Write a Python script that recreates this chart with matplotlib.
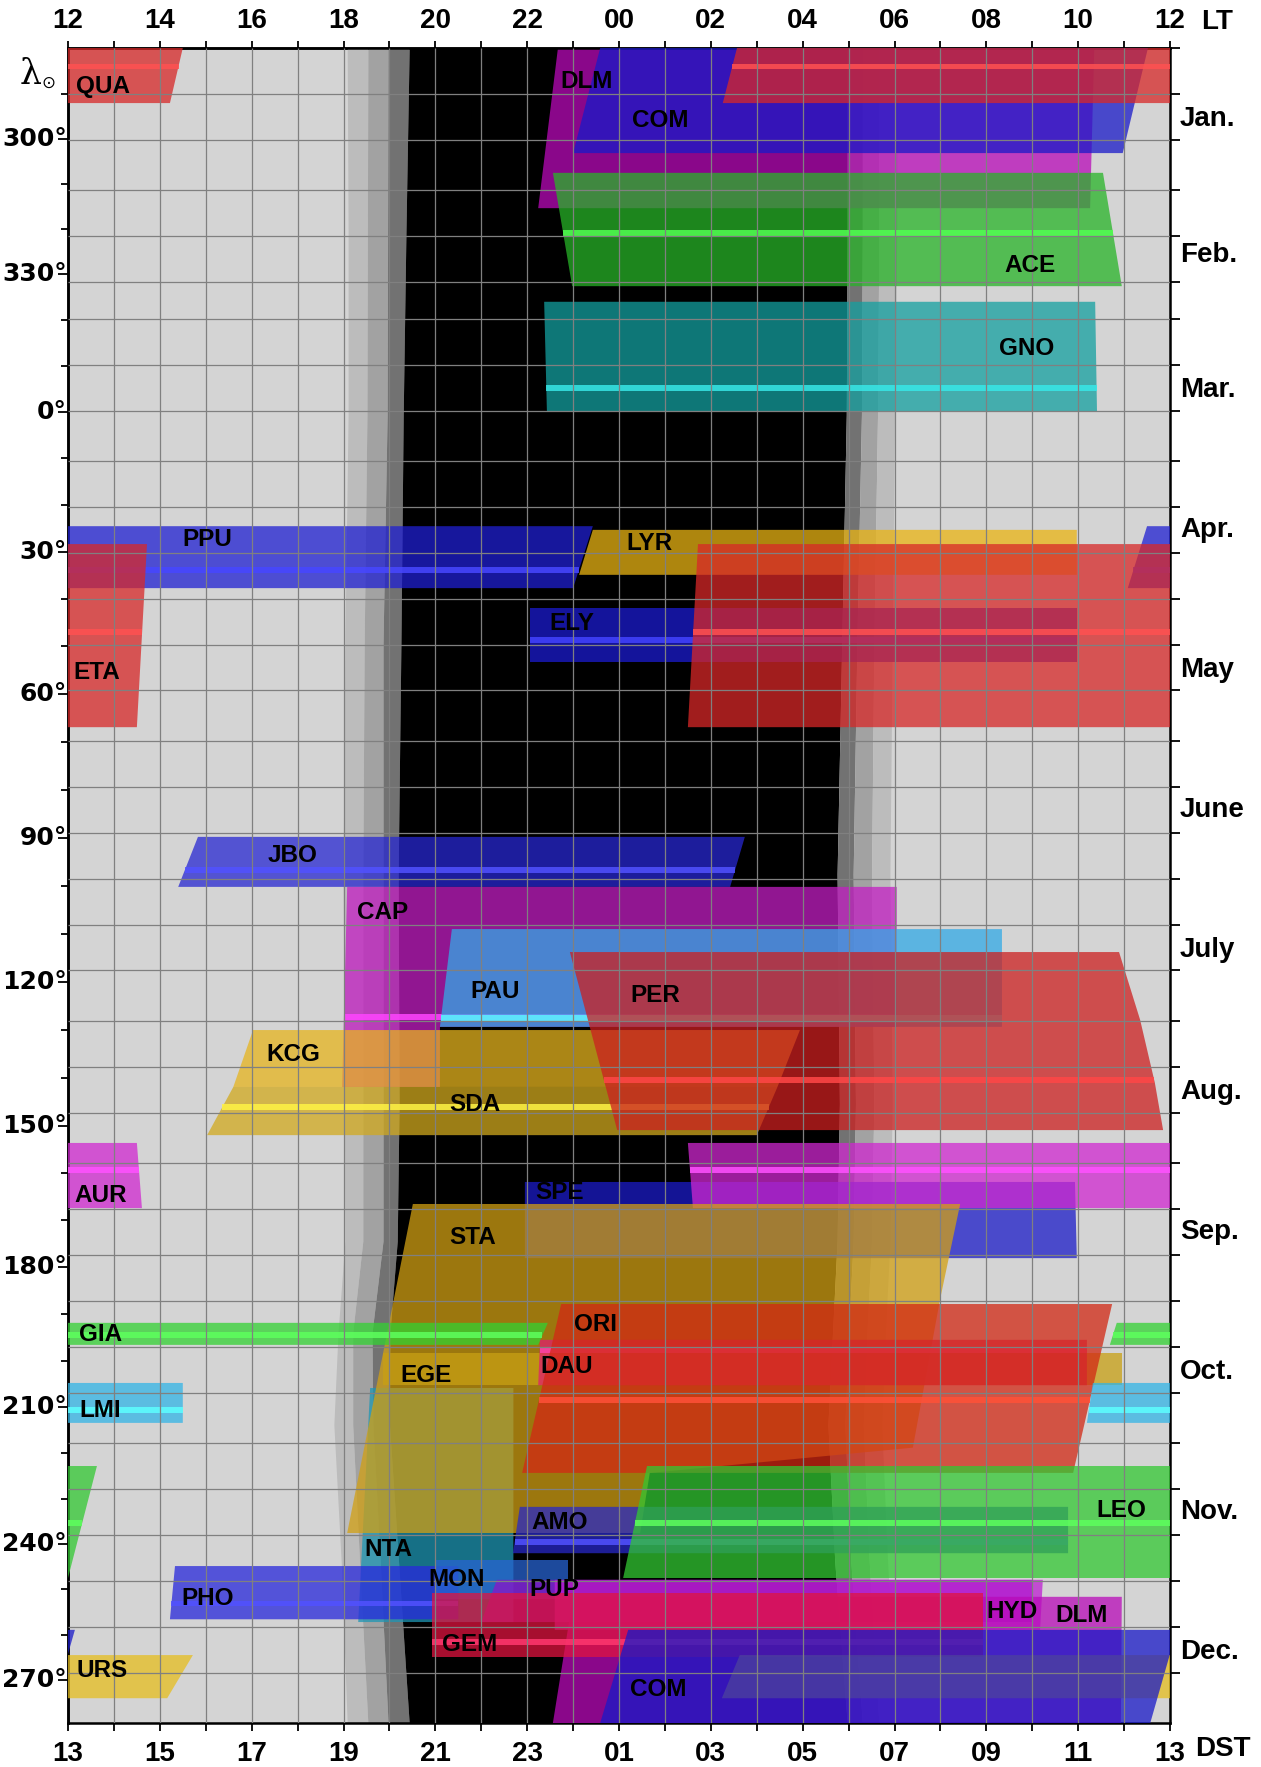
import numpy as np
import matplotlib.pyplot as plt
from matplotlib.patches import Polygon
from matplotlib.colors import to_rgb

plt.rcParams['font.family'] = ['Liberation Sans', 'DejaVu Sans']

# ---- axes / calendar data
MONTHS = ['Jan.', 'Feb.', 'Mar.', 'Apr.', 'May', 'June',
          'July', 'Aug.', 'Sep.', 'Oct.', 'Nov.', 'Dec.']
MONTH_DAYS = [31, 28, 31, 30, 31, 30, 31, 31, 30, 31, 30, 31]
LAMBDA_LABELS = [300, 330, 0, 30, 60, 90, 120, 150, 180, 210, 240, 270]
TOP_LABELS = ['12', '14', '16', '18', '20', '22', '00', '02', '04', '06', '08', '10', '12']
BOTTOM_LABELS = ['13', '15', '17', '19', '21', '23', '01', '03', '05', '07', '09', '11', '13']

# ---- twilight boundaries (day of year, LT hours; after midnight = 24+)
TW_DAY = [0, 40, 80, 130, 180, 230, 260, 280, 300, 330, 365]
EVE_SUNSET = [18.08, 18.10, 18.10, 18.03, 17.99, 18.02, 18.03, 17.88, 17.79, 17.95, 18.08]
EVE_CIVIL = [18.53, 18.52, 18.51, 18.45, 18.42, 18.42, 18.42, 18.20, 18.20, 18.35, 18.53]
EVE_NAUT = [18.97, 18.96, 18.95, 18.86, 18.86, 18.86, 18.86, 18.62, 18.64, 18.80, 18.97]
EVE_ASTRO = [19.43, 19.36, 19.30, 19.25, 19.19, 19.21, 19.17, 19.01, 19.00, 19.20, 19.43]
MORN_ASTRO = [28.97, 28.97, 28.95, 28.85, 28.75, 28.80, 28.75, 28.65, 28.55, 28.70, 28.97]
MORN_NAUT = [29.30, 29.30, 29.28, 29.18, 29.10, 29.15, 29.10, 29.00, 28.92, 29.05, 29.30]
MORN_CIVIL = [29.66, 29.66, 29.63, 29.55, 29.50, 29.55, 29.50, 29.40, 29.32, 29.45, 29.66]
MORN_SUNRISE = [30.05, 30.05, 30.00, 29.95, 29.90, 29.95, 29.90, 29.80, 29.72, 29.85, 30.05]

# ---- meteor showers (drawing order): edges as (day, LT hour) from top to bottom
SHOWER_KEYS = ['DLM1', 'COM1', 'QUA', 'ACE', 'GNO', 'PPU', 'LYR', 'ELY', 'ETA', 'JBO',
               'CAP', 'PAU', 'KCG', 'SDA', 'PER', 'SPE', 'AUR', 'NTA', 'STA', 'EGE',
               'DAU', 'ORI', 'GIA', 'LMI', 'AMO', 'LEO', 'PHO', 'MON', 'PUP', 'HYD',
               'DLM2', 'GEM', 'URS', 'COM2']
SHOWER_NAME = {k: k.rstrip('12') for k in SHOWER_KEYS}

LEFT_EDGE = {
    'DLM1': [(0, 22.67), (34.9, 22.24)],
    'COM1': [(0, 23.59), (22.9, 23.00)],
    'QUA': [(0, 26.57), (12.0, 26.26)],
    'ACE': [(27.2, 22.56), (51.9, 22.98)],
    'GNO': [(55.3, 22.37), (79.3, 22.43)],
    'PPU': [(104.2, 35.50), (117.7, 35.08)],
    'LYR': [(105.0, 23.43), (114.8, 23.13)],
    'ETA': [(108.1, 25.72), (148.0, 25.50)],
    'ELY': [(122.0, 22.06), (133.8, 22.06)],
    'JBO': [(171.9, 14.83), (182.8, 14.40)],
    'CAP': [(182.8, 18.08), (226.4, 17.97)],
    'PAU': [(192.0, 20.36), (213.3, 20.10)],
    'PER': [(197.0, 22.93), (235.8, 23.96)],
    'KCG': [(214.0, 16.03), (226.4, 15.60)],
    'SDA': [(226.4, 15.60), (236.9, 15.03)],
    'AUR': [(238.6, 25.50), (252.8, 25.61)],
    'SPE': [(247.1, 21.95), (263.7, 21.95)],
    'STA': [(251.9, 19.51), (323.6, 18.08)],
    'ORI': [(273.7, 22.74), (310.5, 21.89)],
    'GIA': [(277.8, 34.84), (282.6, 34.69)],
    'DAU': [(281.5, 22.28), (291.4, 22.24)],
    'EGE': [(284.4, 18.86), (291.4, 18.86)],
    'LMI': [(290.9, 34.32), (299.6, 34.19)],
    'NTA': [(292.0, 18.58), (343.0, 18.32)],
    'LEO': [(309.0, 24.61), (333.4, 24.09)],
    'AMO': [(317.9, 21.84), (328.0, 21.69)],
    'PHO': [(330.8, 14.33), (342.4, 14.22)],
    'MON': [(329.5, 20.00), (338.0, 20.00)],
    'PUP': [(333.8, 21.34), (343.0, 21.00)],
    'HYD': [(333.8, 22.60), (344.7, 22.60)],
    'GEM': [(336.7, 19.93), (350.6, 19.93)],
    'DLM2': [(337.5, 23.00), (365.0, 22.56)],
    'COM2': [(344.7, 24.20), (365.0, 23.59)],
    'URS': [(350.2, 26.63), (359.6, 26.24)],
}
RIGHT_EDGE = {
    'DLM1': [(0, 34.35), (34.9, 34.26)],
    'COM1': [(0, 35.52), (22.9, 34.97)],
    'QUA': [(0, 38.50), (12.0, 38.22)],
    'ACE': [(27.2, 34.54), (51.9, 34.95)],
    'GNO': [(55.3, 34.37), (79.3, 34.41)],
    'PPU': [(104.2, 47.43), (117.7, 47.00)],
    'LYR': [(105.0, 33.97), (114.8, 33.97)],
    'ETA': [(108.1, 37.72), (148.0, 37.50)],
    'ELY': [(122.0, 33.97), (133.8, 33.97)],
    'JBO': [(171.9, 26.74), (182.8, 26.42)],
    'CAP': [(182.8, 30.05), (213.3, 30.05), (213.3, 20.10), (226.4, 20.10)],
    'PAU': [(192.0, 32.34), (213.3, 32.34)],
    'PER': [(197.0, 34.89), (211.8, 35.35), (225.5, 35.67), (235.8, 35.85)],
    'KCG': [(214.0, 27.94), (226.4, 27.45)],
    'SDA': [(226.4, 27.45), (236.9, 27.00)],
    'AUR': [(238.6, 37.50), (252.8, 37.61)],
    'SPE': [(247.1, 33.93), (263.7, 33.97)],
    'STA': [(251.9, 31.43), (272.8, 30.99), (305.0, 30.40), (310.5, 24.67), (323.6, 24.46)],
    'ORI': [(273.7, 34.74), (310.5, 33.89)],
    'GIA': [(277.8, 46.45), (282.6, 46.24)],
    'DAU': [(281.5, 34.19), (291.4, 34.19)],
    'EGE': [(284.4, 34.95), (291.4, 34.95)],
    'LMI': [(290.9, 38.50), (299.6, 38.50)],
    'NTA': [(292.0, 21.70), (343.0, 21.70)],
    'LEO': [(309.0, 36.63), (333.4, 36.00)],
    'AMO': [(317.9, 33.78), (328.0, 33.78)],
    'PHO': [(330.8, 20.50), (342.4, 20.50)],
    'MON': [(329.5, 22.90), (338.0, 22.90)],
    'PUP': [(333.8, 33.00), (343.0, 33.00)],
    'HYD': [(333.8, 33.23), (344.7, 33.17)],
    'GEM': [(336.7, 31.93), (350.6, 31.93)],
    'DLM2': [(337.5, 34.95), (365.0, 34.93)],
    'COM2': [(344.7, 36.15), (365.0, 35.57)],
    'URS': [(350.2, 38.72), (359.6, 38.16)],
}
PEAK_DAY = {'QUA': 4.0, 'ACE': 40.3, 'GNO': 74.1, 'PPU': 113.8, 'ETA': 127.3,
            'ELY': 129.0, 'JBO': 179.1, 'CAP': 211.2, 'PAU': 211.4, 'PER': 224.9,
            'SDA': 230.8, 'AUR': 244.5, 'ORI': 294.6, 'GIA': 280.5, 'DAU': 283.8,
            'LMI': 296.8, 'LEO': 321.4, 'AMO': 325.6, 'PHO': 339.0,
            'GEM': 347.3}
LABEL_AT = {  # (LT hour, day)
    'DLM1': (23.30, 7.4), 'COM1': (24.89, 15.7), 'QUA': (12.76, 8.3), 'ACE': (32.95, 47.3),
    'GNO': (32.88, 65.4), 'PPU': (15.03, 107.2), 'LYR': (24.67, 107.9), 'ETA': (12.63, 136.0),
    'ELY': (22.98, 125.3), 'JBO': (16.90, 175.9), 'CAP': (18.84, 188.3), 'PAU': (21.30, 205.7),
    'PER': (24.78, 206.4), 'KCG': (16.90, 219.4), 'SDA': (20.86, 230.3), 'AUR': (12.70, 250.0),
    'SPE': (22.71, 249.3), 'STA': (20.82, 259.1), 'ORI': (23.48, 278.1), 'GIA': (12.70, 280.4),
    'DAU': (22.87, 287.4), 'EGE': (19.80, 289.2), 'LMI': (12.70, 296.8), 'NTA': (18.97, 327.3),
    'LEO': (34.95, 318.6), 'AMO': (22.71, 321.4), 'PHO': (15.05, 337.8), 'MON': (20.47, 333.8),
    'PUP': (22.60, 336.0), 'HYD': (32.56, 340.8), 'GEM': (20.75, 348.0), 'DLM2': (34.08, 341.5),
    'COM2': (24.85, 357.8), 'URS': (12.74, 353.5),
}

COLOR = {
    'DLM1': '#b90ab9', 'COM1': '#1919c8', 'QUA': '#d82828', 'ACE': '#28b428',
    'GNO': '#14a0a0', 'PPU': '#2020d2', 'LYR': '#eab414', 'ETA': '#d82828',
    'ELY': '#1c1cd0', 'JBO': '#2828d2', 'CAP': '#c31ec3', 'PAU': '#32aae6',
    'PER': '#cc2020', 'KCG': '#e6b41e', 'SDA': '#d2aa1e', 'AUR': '#d028d0',
    'SPE': '#1c1cc8', 'STA': '#d2a014', 'ORI': '#d22814', 'GIA': '#32d232',
    'DAU': '#e01e6e', 'EGE': '#c8a014', 'LMI': '#32b4e6', 'NTA': '#1e96b4',
    'LEO': '#32c832', 'AMO': '#2828c8', 'PHO': '#2828dc', 'MON': '#2864d2',
    'PUP': '#8c14c8', 'HYD': '#be1ed2', 'GEM': '#e01440', 'DLM2': '#b90ab9',
    'COM2': '#1919c8', 'URS': '#e6be1e',
}
ALPHA = 0.75


def sun_lon(day):
    n = np.asarray(day, dtype=float) - 0.5
    g = np.radians(357.528 + 0.9856003 * n)
    return 280.460 + 0.9856474 * n + 1.915 * np.sin(g) + 0.020 * np.sin(2 * g)


fine_days = np.linspace(-10, 375, 5000)
fine_lon = sun_lon(fine_days)


def lon_to_day(lon):
    lon = lon if lon >= 280 else lon + 360
    return float(np.interp(lon, fine_lon, fine_days))


def add_poly(ax, verts, color, alpha, z):
    for shift in (-24, 0, 24):
        ax.add_patch(Polygon([(h + shift, d) for h, d in verts], closed=True,
                             facecolor=color, edgecolor='none', alpha=alpha, zorder=z))


fig = plt.figure(figsize=(12.61, 17.67), dpi=100)
ax = fig.add_axes([0.05393, 0.02490, 0.87391, 0.94793])
ax.set_facecolor('#d4d4d4')
ax.set_xlim(12, 36)
ax.set_ylim(365, 0)

# twilight and night
bands = [(EVE_SUNSET, EVE_CIVIL, '#bcbcbc'), (EVE_CIVIL, EVE_NAUT, '#a2a2a2'),
         (EVE_NAUT, EVE_ASTRO, '#727272'), (EVE_ASTRO, MORN_ASTRO, '#000000'),
         (MORN_ASTRO, MORN_NAUT, '#727272'), (MORN_NAUT, MORN_CIVIL, '#a2a2a2'),
         (MORN_CIVIL, MORN_SUNRISE, '#bcbcbc')]
for a, b, c in bands:
    ax.fill_betweenx(TW_DAY, a, b, color=c, lw=0, zorder=1)

# showers
z = 2
for k in SHOWER_KEYS:
    le, re = LEFT_EDGE[k], RIGHT_EDGE[k]
    verts = [(h, d) for d, h in le] + [(h, d) for d, h in re[::-1]]
    add_poly(ax, verts, COLOR[k], ALPHA, z)
    if k in PEAK_DAY:
        p = PEAK_DAY[k]
        hl = np.interp(p, [d for d, h in le], [h for d, h in le])
        hr = np.interp(p, [d for d, h in re], [h for d, h in re])
        sc = np.clip(np.array(to_rgb(COLOR[k])) * 1.25 + 0.12, 0, 1)
        add_poly(ax, [(hl, p - 0.6), (hr, p - 0.6), (hr, p + 0.6), (hl, p + 0.6)], sc, 0.85, z + 0.5)
    z += 1

# grid
grid_days = []
start = 0
for n in MONTH_DAYS:
    grid_days += [start, start + 10, start + 20]
    start += n
ax.vlines(np.arange(13, 36), 0, 365, color='#808080', lw=0.9, zorder=80)
ax.hlines(grid_days[1:], 12, 36, color='#808080', lw=0.9, zorder=80)

# labels of showers
for k in SHOWER_KEYS:
    x, y = LABEL_AT[k]
    ax.text(x, y, SHOWER_NAME[k], ha='center', va='center', fontsize=17.5,
            fontweight='bold', color='black', zorder=90)

# x axes
ax.set_xticks(np.arange(12, 37, 2))
ax.set_xticklabels(BOTTOM_LABELS, fontsize=20, fontweight='bold')
ax.set_xticks(np.arange(13, 36, 2), minor=True)
ax.tick_params(axis='x', which='both', direction='out', length=6, width=1.3, pad=7)
top = ax.secondary_xaxis('top')
top.set_xticks(np.arange(12, 37, 2))
top.set_xticklabels(TOP_LABELS, fontsize=20, fontweight='bold')
top.set_xticks(np.arange(13, 36, 2), minor=True)
top.tick_params(axis='x', which='both', direction='out', length=5, width=1.3, pad=5)

# y axes: right = calendar ticks, left = solar longitude
ax.yaxis.tick_right()
ax.set_yticks(grid_days)
ax.set_yticklabels([])
ax.tick_params(axis='y', which='both', direction='out', length=7, width=1.3)
start = 0
for name, n in zip(MONTHS, MONTH_DAYS):
    ax.text(1.009, start + n / 2, name, transform=ax.get_yaxis_transform(),
            ha='left', va='center', fontsize=20, fontweight='bold')
    start += n

left = ax.secondary_yaxis('left')
left.set_yticks([lon_to_day(l) for l in LAMBDA_LABELS])
left.set_yticklabels([])
left.set_yticks([lon_to_day(l % 360) for l in range(290, 640, 10) if l % 30], minor=True)
left.tick_params(axis='y', which='major', direction='out', length=7, width=1.3)
left.tick_params(axis='y', which='minor', direction='out', length=5, width=1.3)
for l in LAMBDA_LABELS:
    ax.text(-0.001, lon_to_day(l), '%d\u00b0' % l, transform=ax.get_yaxis_transform(),
            ha='right', va='center', fontsize=18, fontweight='bold',
            family=['DejaVu Sans'])

for sp in list(ax.spines.values()):
    sp.set_linewidth(1.8)
for s in (top, left):
    for sp in s.spines.values():
        sp.set_linewidth(1.8)

fig.text(0.965, 0.9875, 'LT', fontsize=20, fontweight='bold', ha='center', va='center')
fig.text(0.970, 0.0102, 'DST', fontsize=20, fontweight='bold', ha='center', va='center')
fig.text(0.024, 0.958, '\u03bb', fontsize=25, family=['DejaVu Serif'], ha='center', va='center')
fig.text(0.038, 0.953, '\u2299', fontsize=12, family=['DejaVu Sans'], ha='center', va='center')

fig.savefig('out.png', dpi=100)
